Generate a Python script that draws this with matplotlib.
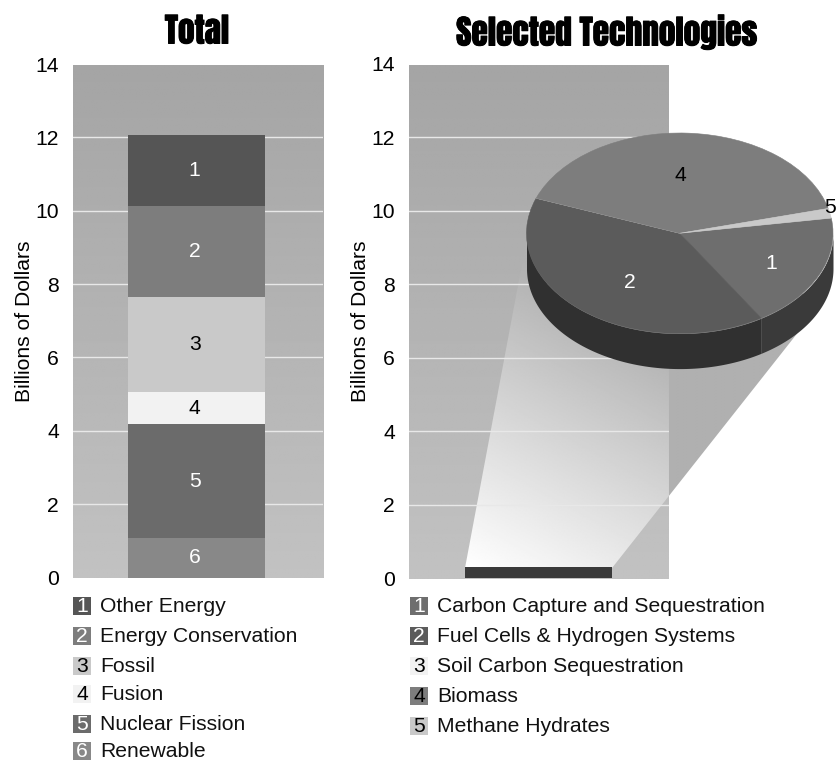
import matplotlib
matplotlib.use("Agg")
import matplotlib.pyplot as plt
import matplotlib.patheffects as pe
from matplotlib.patches import Polygon
import numpy as np

plt.rcParams['font.family'] = ['Liberation Sans', 'DejaVu Sans']

W, H = 838, 761

# data
total_labels = ['Other Energy', 'Energy Conservation', 'Fossil', 'Fusion', 'Nuclear Fission', 'Renewable']
total_values = [1.94, 2.49, 2.59, 0.87, 3.10, 1.08]
total_colors = ['#555555', '#7d7d7d', '#c9c9c9', '#f2f2f2', '#6b6b6b', '#888888']
total_text = ['white', 'white', 'black', 'black', 'white', 'white']

tech_labels = ['Carbon Capture and Sequestration', 'Fuel Cells & Hydrogen Systems',
               'Soil Carbon Sequestration', 'Biomass', 'Methane Hydrates']
tech_values = [0.0555, 0.1188, 0.0, 0.121, 0.0047]
tech_colors = ['#6e6e6e', '#5b5b5b', '#f2f2f2', '#7d7d7d', '#c9c9c9']
tech_text = ['white', 'white', 'black', 'black', 'black']
tech_total = 0.3

yticks = [0, 2, 4, 6, 8, 10, 12, 14]

FS = 15.2


def px_axes(x0, y0, x1, y1, **kw):
    # axes placed with reference pixel coordinates (y measured from the top)
    return fig.add_axes([x0 / W, 1 - y1 / H, (x1 - x0) / W, (y1 - y0) / H], **kw)


fig = plt.figure(figsize=(W / 100, H / 100), dpi=100, facecolor='white')

# background layer in pixels: plot gradients, cone, legend swatches
bg = fig.add_axes([0, 0, 1, 1], zorder=0)


def plot_gradient(x0, x1, y0, y1):
    yy, xx = np.mgrid[0:1:200j, 0:1:100j]
    img = 0.645 + 0.115 * yy
    bg.imshow(img, cmap='gray', vmin=0, vmax=1, extent=(x0, x1, y1, y0), aspect='auto', zorder=1)


plot_gradient(73, 323, 65, 578)
plot_gradient(409, 669, 65, 579)

# cone from the small bar up to the pie
cone_pts = [(465, 568), (526.5, 240), (680, 240), (822, 302), (612, 568)]
yy, xx = np.mgrid[120:570:300j, 460:840:300j]
t = np.clip(((xx - 465) * 0.55 + (568 - yy) * 1.0) / 340, 0, 1)
cone_img = 1.0 - 0.31 * t
cone_img[xx > 669] = 0.69
im = bg.imshow(cone_img, cmap='gray', vmin=0, vmax=1, extent=(460, 840, 570, 120), aspect='auto', zorder=2)
bg.set_xlim(0, W)
bg.set_ylim(H, 0)
bg.axis('off')
im.set_clip_path(Polygon(cone_pts, closed=True, transform=bg.transData))

ax1 = px_axes(73, 64, 323, 577.5, zorder=1)
ax2 = px_axes(409, 64, 669, 578, zorder=1)

for ax in (ax1, ax2):
    ax.patch.set_alpha(0)
    ax.set_xlim(0, 1)
    ax.set_ylim(0, 14)
    ax.set_yticks(yticks)
    ax.set_xticks([])
    ax.tick_params(axis='y', length=0, labelsize=FS, pad=10)
    ax.grid(axis='y', color='#e8e8e8', lw=1)
    ax.set_axisbelow(True)
    for s in ax.spines.values():
        s.set_visible(False)
    ax.set_ylabel('Billions of Dollars', fontsize=FS, labelpad=1)
    # no line along the top and bottom edge of the plot
    for g in (ax.get_ygridlines()[0], ax.get_ygridlines()[-1]):
        g.set_visible(False)

# left stacked bar, drawn from the bottom segment up
bottom = 0
for i in range(len(total_values) - 1, -1, -1):
    v = total_values[i]
    ax1.bar(0.494, v, 0.548, bottom=bottom, color=total_colors[i], zorder=3)
    ax1.text(0.487, bottom + v / 2, str(i + 1), color=total_text[i], fontsize=FS,
             ha='center', va='center', zorder=4)
    bottom += v

ax2.bar(0.498, tech_total, 0.565, color='#3a3a3a', zorder=3)

# 3D looking pie on its own axes, squashed by the axes shape
pie = px_axes(526.5, 133, 833, 333.5, zorder=3)
wedges, texts = pie.pie(tech_values, startangle=8.7, counterclock=False, colors=tech_colors,
                        radius=1, labels=None)
pie.set_aspect('auto')
pie.set_xlim(-1, 1)
pie.set_ylim(-1, 1)
for w in wedges:
    w.set_clip_on(False)
    w.set_zorder(3)
    w.set_edgecolor(w.get_facecolor())
    w.set_linewidth(0.4)

depth = 0.35
# side wall, split where the first two slices meet
split = 8.7 - tech_values[0] / sum(tech_values) * 360
for a, b, c in [(-180, split, '#303030'), (split, 0, '#3a3a3a')]:
    th = np.radians(np.linspace(a, b, 120))
    pie.fill_between(np.cos(th), np.sin(th), np.sin(th) - depth, color=c, lw=0, zorder=1, clip_on=False)

# slice labels
ang = 8.7
dist = [0.66, 0.52, 0, 0.58, 1.0]
nudge_x = [0, 0, 0, -0.03, 0]
nudge_y = [-0.03, -0.09, 0, 0, 0.06]
for i, v in enumerate(tech_values):
    span = v / sum(tech_values) * 360
    mid = np.radians(ang - span / 2)
    ang -= span
    if v == 0:
        continue
    pie.text(dist[i] * np.cos(mid) + nudge_x[i], dist[i] * np.sin(mid) + nudge_y[i], str(i + 1),
             color=tech_text[i], fontsize=FS, ha='center', va='center', zorder=5, clip_on=False)

# titles
title_font = ['Anton', 'Oswald', 'Liberation Sans', 'DejaVu Sans']
title_fx = [pe.withStroke(linewidth=0.7, foreground='black')]
fig.text(197 / W, 1 - 31 / H, 'Total', fontsize=24, ha='center', va='center', family=title_font,
         path_effects=title_fx)
fig.text(607 / W, 1 - 32 / H, 'Selected Technologies', fontsize=24, ha='center', va='center', family=title_font,
         path_effects=title_fx)

# legends, rows given by text baseline
left_rows = [612, 642, 672, 700, 730, 757]
right_rows = [612, 642, 672, 702, 732]


def legend(x, rows, labels, colors, text_colors):
    for i, (y, lab) in enumerate(zip(rows, labels)):
        bg.fill([x, x + 18, x + 18, x], [y - 15, y - 15, y + 3, y + 3], color=colors[i], lw=0, zorder=3)
        bg.text(x + 9, y, str(i + 1), color=text_colors[i], fontsize=FS, ha='center', va='baseline', zorder=4)
        bg.text(x + 27, y, lab, color='#111111', fontsize=FS, ha='left', va='baseline', zorder=4)


legend(73, left_rows, total_labels, total_colors, total_text)
legend(410, right_rows, tech_labels, tech_colors, tech_text)

fig.savefig('out.png', dpi=100)
